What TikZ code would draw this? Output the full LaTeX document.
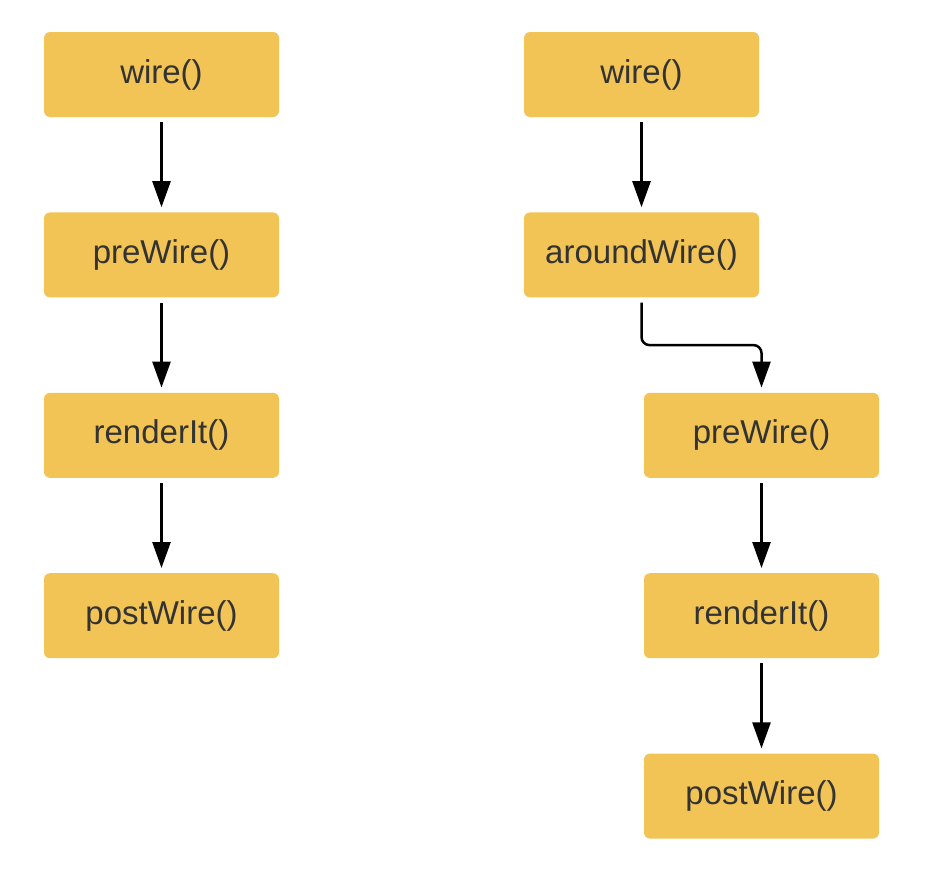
\documentclass[tikz,border=0pt]{standalone}
\usepackage{fontspec}
\setmainfont{Liberation Sans}
\definecolor{yellowBox}{HTML}{F2C355}
\definecolor{greyText}{HTML}{333333}
\usetikzlibrary{
  positioning,
  calc,
  arrows.meta
}

\begin{document}
\begin{tikzpicture}[
    % Boxes.
    callbox/.style = {
      fill = yellowBox,
      rounded corners = 6pt,
      minimum width = 235pt,
      minimum height = 85pt,
      text = greyText,
      font = \fontsize{33}{40}\selectfont
    },
    % Arrows.
    callarrow/.style = {
      -{Triangle[length=26pt, width=18pt]},
      line width = 2.5pt,
      shorten < = 5pt,
      shorten > = 5pt
    },
    node distance = 95pt
  ]
  \useasboundingbox (0pt,0pt) rectangle (926pt,-886pt);

  % Left column.
  \node[callbox] (wireA) at (161.5pt,-74.5pt) {wire()};
  \node[callbox, below = of wireA] (preA) {preWire()};
  \node[callbox, below = of preA] (renderA) {renderIt()};
  \node[callbox, below = of renderA] (postA) {postWire()};

  % Right column.
  \node[callbox] (wireB) at (641.5pt,-74.5pt) {wire()};
  \node[callbox, below = of wireB] (aroundB) {aroundWire()};
  \node[callbox, below = of aroundB, xshift = 120pt] (preB) {preWire()};
  \node[callbox, below = of preB] (renderB) {renderIt()};
  \node[callbox, below = of renderB] (postB) {postWire()};

  % Links.
  \draw[callarrow] (wireA) -- (preA);
  \draw[callarrow] (preA) -- (renderA);
  \draw[callarrow] (renderA) -- (postA);
  \draw[callarrow] (wireB) -- (aroundB);
  \draw[callarrow, rounded corners = 8pt]
    (aroundB.south) |- ($(aroundB.south)!.5!(preB.north)$) -| (preB.north);
  \draw[callarrow] (preB) -- (renderB);
  \draw[callarrow] (renderB) -- (postB);
\end{tikzpicture}
\end{document}
